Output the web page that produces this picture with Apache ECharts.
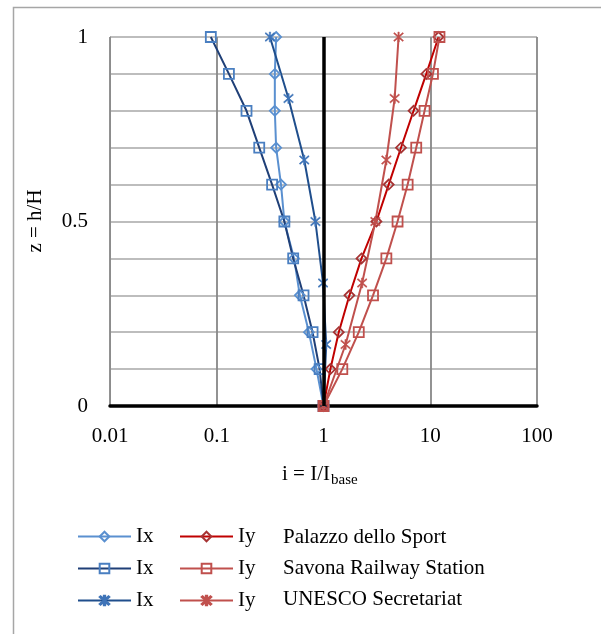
<!DOCTYPE html>
<html>
<head>
<meta charset="utf-8">
<script src="https://cdn.jsdelivr.net/npm/echarts@6/dist/echarts.min.js"></script>
<style>html,body{margin:0;padding:0;background:#fff;}#c{width:601px;height:634px;}</style>
</head>
<body>
<div id="c"></div>
<script>
// ---- data ----
const zTenth = [0, 0.1, 0.2, 0.3, 0.4, 0.5, 0.6, 0.7, 0.8, 0.9, 1];
const zSixth = [0, 1/6, 1/3, 0.5, 2/3, 5/6, 1];
const ixPalazzo = [1, 0.86, 0.73, 0.60, 0.53, 0.43, 0.40, 0.36, 0.35, 0.35, 0.36];
const ixSavona  = [1, 0.92, 0.79, 0.65, 0.52, 0.43, 0.33, 0.25, 0.19, 0.13, 0.088];
const ixUnesco  = [1, 1.06, 0.99, 0.84, 0.66, 0.47, 0.315];
const iyPalazzo = [1, 1.16, 1.39, 1.75, 2.27, 3.13, 4.08, 5.32, 6.98, 9.18, 11.96];
const iySavona  = [1, 1.50, 2.14, 2.91, 3.88, 4.94, 6.14, 7.39, 8.85, 10.6, 12.2];
const iyUnesco  = [1, 1.61, 2.30, 3.06, 3.88, 4.64, 5.05];
const buildings = ['Palazzo dello Sport', 'Savona Railway Station', 'UNESCO Secretariat'];
const yTickLabels = ['0', '0.5', '1'];
const xTickLabels = ['0.01', '0.1', '1', '10', '100'];

const FONT = '"Liberation Serif", "Times New Roman", serif';
const STAR = 'path://M4.4 0 L5.6 0 L5.6 10 L4.4 10 Z M1.4 0.6 L9.4 8.6 L8.6 9.4 L0.6 1.4 Z M8.6 0.6 L9.4 1.4 L1.4 9.4 L0.6 8.6 Z';

function pairs(xs, zs) { return xs.map((v, i) => [v, zs[i]]); }

function mk(name, xs, zs, lineColor, markColor, symbol, size) {
  const star = symbol === STAR;
  return {
    name: name, type: 'line', data: pairs(xs, zs),
    symbol: symbol, symbolSize: size, showAllSymbol: true,
    lineStyle: { color: lineColor, width: 2 },
    itemStyle: star ? { color: markColor, borderColor: markColor, borderWidth: 0.5 }
                    : { color: 'rgba(255,255,255,0)', borderColor: markColor, borderWidth: 1.8 },
    emphasis: { disabled: true }, animation: false, z: 3
  };
}

const chart = echarts.init(document.getElementById('c'), null, { renderer: 'canvas' });
const option = {
  animation: false,
  backgroundColor: '#fff',
  grid: { left: 110, top: 37, width: 427, height: 369, containLabel: false },
  xAxis: {
    type: 'log', logBase: 10, min: 0.01, max: 100,
    axisLine: { show: true, lineStyle: { color: '#000', width: 3.5 } },
    axisTick: { show: false },
    splitLine: { show: true, lineStyle: { color: '#878787', width: 1.8 } },
    axisLabel: {
      margin: 20, fontFamily: FONT, fontSize: 21, color: '#000',
      formatter: v => { const s = parseFloat(Number(v).toPrecision(6)).toString(); return xTickLabels.indexOf(s) >= 0 ? s : ''; }
    }
  },
  yAxis: {
    type: 'value', min: 0, max: 1, interval: 0.1,
    axisLine: { show: true, lineStyle: { color: '#8c8c8c', width: 1 } },
    axisTick: { show: false },
    splitLine: { show: true, lineStyle: { color: '#bdbdbd', width: 2 } },
    axisLabel: {
      margin: 22, fontFamily: FONT, fontSize: 21, color: '#000',
      formatter: v => { const s = parseFloat(Number(v).toFixed(3)).toString(); return yTickLabels.indexOf(s) >= 0 ? s : ''; }
    }
  },
  legend: [
    {
      orient: 'vertical', left: 77, top: 526, padding: 0, itemWidth: 53, itemHeight: 12, itemGap: 11,
      data: ['IxP', 'IxS', 'IxU'], formatter: n => n.slice(0, 2), selectedMode: false,
      textStyle: { fontFamily: FONT, fontSize: 21, color: '#000', lineHeight: 20 }
    },
    {
      orient: 'vertical', left: 179, top: 526, padding: 0, itemWidth: 53, itemHeight: 12, itemGap: 11,
      data: ['IyP', 'IyS', 'IyU'], formatter: n => n.slice(0, 2), selectedMode: false,
      textStyle: { fontFamily: FONT, fontSize: 21, color: '#000', lineHeight: 20 }
    }
  ],
  graphic: [
    { type: 'rect', silent: true, z: -10, shape: { x: 13.5, y: 7.5, width: 620, height: 660 },
      style: { fill: 'none', stroke: '#a6a6a6', lineWidth: 1.5 } },
    { type: 'text', x: 35, y: 221, rotation: Math.PI / 2, silent: true,
      style: { text: 'z = h/H', font: '21px ' + FONT, fill: '#000', align: 'center', verticalAlign: 'middle' } },
    { type: 'text', x: 282, y: 474, silent: true,
      style: { text: 'i = I/I', font: '21px ' + FONT, fill: '#000', align: 'left', verticalAlign: 'middle' } },
    { type: 'text', x: 331, y: 480, silent: true,
      style: { text: 'base', font: '15px ' + FONT, fill: '#000', align: 'left', verticalAlign: 'middle' } },
    { type: 'text', x: 283, y: 537, silent: true,
      style: { text: buildings[0], font: '21px ' + FONT, fill: '#000', verticalAlign: 'middle' } },
    { type: 'text', x: 283, y: 568, silent: true,
      style: { text: buildings[1], font: '21px ' + FONT, fill: '#000', verticalAlign: 'middle' } },
    { type: 'text', x: 283, y: 599, silent: true,
      style: { text: buildings[2], font: '21px ' + FONT, fill: '#000', verticalAlign: 'middle' } }
  ],
  series: [
    {
      name: 'axis1', type: 'line', data: [], z: 1, silent: true,
      markLine: { silent: true, symbol: 'none', label: { show: false },
        lineStyle: { color: '#000', width: 3.5, type: 'solid' }, data: [{ xAxis: 1 }],
        emphasis: { disabled: true } }
    },
    mk('IxP', ixPalazzo, zTenth, '#5a90d0', '#5a90d0', 'diamond', 10),
    mk('IxS', ixSavona, zTenth, '#1f3f77', '#4a7fc1', 'rect', 10),
    mk('IxU', ixUnesco, zSixth, '#1f4e8c', '#3f74b8', STAR, 10),
    mk('IyP', iyPalazzo, zTenth, '#c00000', '#a63333', 'diamond', 10),
    mk('IyS', iySavona, zTenth, '#c0504d', '#c0504d', 'rect', 10),
    mk('IyU', iyUnesco, zSixth, '#c0504d', '#c0504d', STAR, 10)
  ]
};
chart.setOption(option);
</script>
</body>
</html>
